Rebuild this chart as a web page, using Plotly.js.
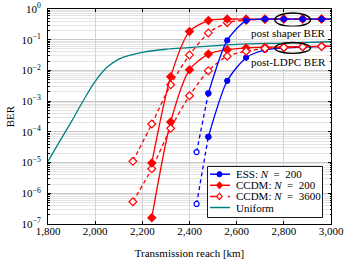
<!DOCTYPE html>
<html>
<head>
<meta charset="utf-8">
<script src="https://cdn.plot.ly/plotly-3.0.1.min.js"></script>
<style>html,body{margin:0;padding:0;background:#fff;}#chart{width:349px;height:261px;}</style>
</head>
<body>
<div id="chart"></div>
<script>
// ---- data ----
var uniformX = [1800, 1850, 1900, 1950, 2000, 2050, 2100, 2150, 2200, 2300, 2400, 2500, 2600, 2800, 3000];
var uniformBER = [1.1e-5, 5.0e-5, 2.2e-4, 1.05e-3, 4.4e-3, 0.0126, 0.0234, 0.0316, 0.039, 0.049, 0.0555, 0.063, 0.07, 0.078, 0.086];

var essX = [2480, 2560, 2640, 2720, 2800, 2880, 2960, 3040];
var essShaper = [1.8e-3, 0.095, 0.42, 0.47, 0.47, 0.47, 0.47, 0.47];
var essLDPC = [6.9e-5, 4.6e-3, 0.026, 0.047, 0.053, 0.057, 0.06, 0.061];
var essExtX = [2430, 2480];
var essExtShaper = [2.2e-5, 1.8e-3];
var essExtLDPC = [4.5e-7, 6.9e-5];

var ccdm200X = [2240, 2320, 2400, 2480, 2560, 2640, 2720, 2800, 2880, 2960, 3040];
var ccdm200Shaper = [9.6e-6, 6.2e-3, 0.186, 0.42, 0.47, 0.47, 0.47, 0.47, 0.47, 0.47, 0.47];
var ccdm200LDPC = [1.6e-7, 2.1e-4, 0.0105, 0.034, 0.047, 0.054, 0.057, 0.058, 0.06, 0.061, 0.062];

var ccdm3600X = [2160, 2240, 2320, 2400, 2480, 2560, 2640, 2720, 2800, 2880, 2960, 3040];
var ccdm3600Shaper = [1.1e-5, 1.8e-4, 3.4e-3, 0.032, 0.166, 0.36, 0.43, 0.46, 0.47, 0.47, 0.47, 0.47];
var ccdm3600LDPC = [5.3e-7, 6.3e-6, 1.3e-4, 1.5e-3, 9.8e-3, 0.029, 0.042, 0.052, 0.056, 0.059, 0.06, 0.061];

var yTickVals = [1e-7, 1e-6, 1e-5, 1e-4, 1e-3, 1e-2, 1e-1, 1];
var yTickText = ['10<sup>\u22127</sup>', '10<sup>\u22126</sup>', '10<sup>\u22125</sup>', '10<sup>\u22124</sup>',
                 '10<sup>\u22123</sup>', '10<sup>\u22122</sup>', '10<sup>\u22121</sup>', '10<sup>0</sup>'];
var xTickVals = [1800, 2000, 2200, 2400, 2600, 2800, 3000];

var seriesNames = ['ESS: <i>N</i>\u2002=\u2002200', 'CCDM: <i>N</i>\u2002=\u2002200', 'CCDM: <i>N</i>\u2002=\u20023600', 'Uniform'];

// ---- styles ----
var BLUE = 'rgb(0,0,255)', RED = 'rgb(255,0,0)', TEAL = 'rgb(0,128,128)';
var FONT = 'Liberation Serif, Times New Roman, serif';
var LW = 1.3, DASH = '4px,3px';
function tr(x, y, color, dash, symbol, hollow) {
  return {
    x: x, y: y, type: 'scatter', mode: 'lines+markers', showlegend: false, cliponaxis: true,
    line: {color: color, width: LW, dash: dash, shape: 'spline', smoothing: 0.7},
    marker: {color: hollow ? 'white' : color, symbol: symbol, size: symbol === 'circle' ? 5 : 6,
             line: {color: color, width: 1.2}}
  };
}
var traces = [
  {x: uniformX, y: uniformBER, type: 'scatter', mode: 'lines', showlegend: false,
   line: {color: TEAL, width: LW, shape: 'spline'}},
  tr(essExtX, essExtShaper, BLUE, DASH, 'circle', true),
  tr(essExtX, essExtLDPC, BLUE, DASH, 'circle', true),
  tr(essX, essLDPC, BLUE, 'solid', 'circle', false),
  tr(ccdm200X, ccdm200LDPC, RED, 'solid', 'diamond', false),
  tr(ccdm3600X, ccdm3600LDPC, RED, DASH, 'diamond', true),
  tr(ccdm3600X, ccdm3600Shaper, RED, DASH, 'diamond', true),
  tr(ccdm200X, ccdm200Shaper, RED, 'solid', 'diamond', false),
  tr(essX, essShaper, BLUE, 'solid', 'circle', false)
];

// ---- hand-drawn legend (decoration, in paper units) ----
var PL = 48, PT = 9, PW = 283, PH = 215;
function px(x) { return (x - PL) / PW; }
function py(y) { return (PT + PH - y) / PH; }
var legColors = [BLUE, RED, RED, TEAL];
var legDash = ['solid', 'solid', 'dash', 'solid'];
var legSym = ['circle', 'diamond', 'diamond-hollow', null];
var shapes = [
  {type: 'circle', xref: 'x', yref: 'y', x0: 2762, x1: 2913, y0: 0.27, y1: 0.74, line: {color: '#000', width: 1.4}},
  {type: 'circle', xref: 'x', yref: 'y', x0: 2762, x1: 2913, y0: 0.036, y1: 0.081, line: {color: '#000', width: 1.4}},
  {type: 'rect', xref: 'paper', yref: 'paper', x0: px(207.5), x1: px(322.5), y0: py(217.5), y1: py(166.5),
   fillcolor: 'white', line: {color: '#000', width: 0.9}}
];
var annotations = [
  {xref: 'x', yref: 'y', x: 2985, y: -0.78, xanchor: 'right', yanchor: 'middle', text: 'post shaper BER', showarrow: false,
   bgcolor: 'white', font: {family: FONT, size: 11}, borderpad: 0},
  {xref: 'x', yref: 'y', x: 2985, y: -1.71, xanchor: 'right', yanchor: 'middle', text: 'post-LDPC BER', showarrow: false,
   bgcolor: 'white', font: {family: FONT, size: 11}, borderpad: 0}
];
for (var i = 0; i < 4; i++) {
  var ry = 174.2 + i * 11.1, cx = 219.5;
  shapes.push({type: 'line', xref: 'paper', yref: 'paper', x0: px(210), x1: px(230), y0: py(ry), y1: py(ry),
               line: {color: legColors[i], width: 1.5, dash: legDash[i]}});
  if (legSym[i] === 'circle') {
    shapes.push({type: 'circle', xref: 'paper', yref: 'paper', x0: px(cx - 2.6), x1: px(cx + 2.6), y0: py(ry + 2.6), y1: py(ry - 2.6),
                 fillcolor: legColors[i], line: {color: legColors[i], width: 1}});
  } else if (legSym[i]) {
    var p = 'M ' + px(cx) + ' ' + py(ry - 3.2) + ' L ' + px(cx + 2.7) + ' ' + py(ry) + ' L ' + px(cx) + ' ' + py(ry + 3.2) +
            ' L ' + px(cx - 2.7) + ' ' + py(ry) + ' Z';
    shapes.push({type: 'path', xref: 'paper', yref: 'paper', path: p,
                 fillcolor: legSym[i] === 'diamond' ? legColors[i] : 'white', line: {color: legColors[i], width: 1.2}});
  }
  annotations.push({xref: 'paper', yref: 'paper', x: px(235), y: py(ry), xanchor: 'left', yanchor: 'middle',
                    text: seriesNames[i], showarrow: false, font: {family: FONT, size: 11}, borderpad: 0});
}

var layout = {
  width: 349, height: 261,
  margin: {l: PL, r: 349 - PL - PW, t: PT, b: 261 - PT - PH},
  paper_bgcolor: 'white', plot_bgcolor: 'white',
  font: {family: FONT, size: 11, color: '#000'},
  showlegend: false,
  xaxis: {
    range: [1800, 3000], tickvals: xTickVals, tickformat: ',d',
    showline: true, linecolor: '#000', linewidth: 1, mirror: 'ticks',
    ticks: 'inside', ticklen: 3, tickcolor: '#000', ticklabelstandoff: -3,
    showgrid: true, gridcolor: '#d4d4d4', gridwidth: 1, zeroline: false,
    title: {text: 'Transmission reach [km]', font: {family: FONT, size: 11}, standoff: 13},
    tickfont: {family: FONT, size: 11}
  },
  yaxis: {
    type: 'log', range: [-7, 0], tickvals: yTickVals, ticktext: yTickText,
    showline: true, linecolor: '#000', linewidth: 1, mirror: 'ticks',
    ticks: 'inside', ticklen: 3, tickcolor: '#000', ticklabelstandoff: 4,
    showgrid: true, gridcolor: '#c8c8c8', gridwidth: 1, zeroline: false,
    minor: {dtick: 'D1', showgrid: true, gridcolor: '#e4e4e4', gridwidth: 1, ticks: 'inside', ticklen: 1.5, tickcolor: '#000'},
    title: {text: 'BER', font: {family: FONT, size: 11}, standoff: 4},
    tickfont: {family: FONT, size: 11}
  },
  shapes: shapes,
  annotations: annotations
};
Plotly.newPlot('chart', traces, layout, {displayModeBar: false, staticPlot: true});
</script>
</body>
</html>
